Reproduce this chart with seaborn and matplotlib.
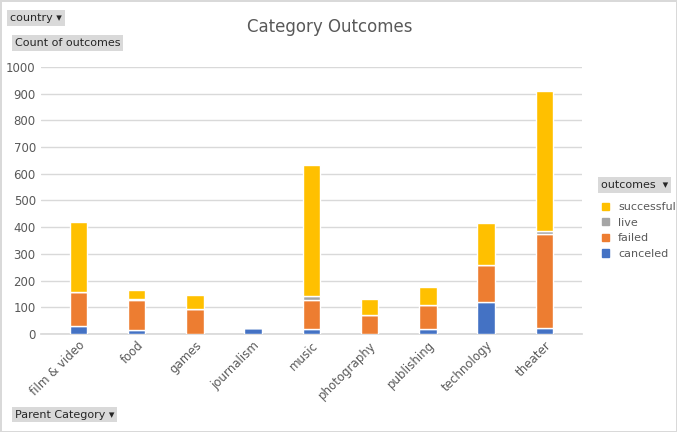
import matplotlib
matplotlib.use("Agg")
import matplotlib.pyplot as plt
import seaborn as sns
import pandas as pd
from matplotlib.patches import Patch

categories = ["film & video", "food", "games", "journalism", "music",
              "photography", "publishing", "technology", "theater"]
canceled = [30, 15, 0, 24, 19, 0, 19, 120, 23]
failed = [128, 112, 94, 0, 109, 71, 90, 139, 352]
live = [0, 4, 0, 0, 15, 0, 0, 0, 11]
successful = [263, 33, 52, 0, 491, 60, 67, 157, 525]

sns.set_theme(style="white")
plt.rcParams['font.family'] = ['DejaVu Sans']

colors = {"canceled": "#4472C4", "failed": "#ED7D31", "live": "#A5A5A5", "successful": "#FFC000"}
series = [("canceled", canceled), ("failed", failed), ("live", live), ("successful", successful)]

fig = plt.figure(figsize=(6.77, 4.32), dpi=100)
ax = fig.add_axes([0.06, 0.227, 0.80, 0.618])

bottom = [0] * len(categories)
for name, vals in series:
    df = pd.DataFrame({"cat": categories, "val": vals})
    ax.bar(df["cat"], df["val"], bottom=bottom, width=0.3, color=colors[name], zorder=3)
    bottom = [b + v for b, v in zip(bottom, vals)]

ax.set_ylim(0, 1000)
ax.set_xlim(-0.65, 8.65)
ax.set_yticks(range(0, 1001, 100))
ax.yaxis.grid(True, color="#D9D9D9", linewidth=1, zorder=0)
ax.tick_params(axis="y", labelsize=8.5, colors="#595959", length=0)
ax.tick_params(axis="x", labelsize=8.5, colors="#595959", length=0)
plt.setp(ax.get_xticklabels(), rotation=45, ha="right", rotation_mode="anchor")
for s in ["top", "right", "left"]:
    ax.spines[s].set_visible(False)
ax.spines["bottom"].set_color("#D9D9D9")

fig.text(0.487, 0.925, "Category Outcomes", ha="center", fontsize=12, color="#595959")

box = dict(boxstyle="square,pad=0.25", fc="#D9D9D9", ec="none")
fig.text(0.015, 0.958, "country \u25be", fontsize=8, bbox=box, va="center")
fig.text(0.022, 0.9, "Count of outcomes", fontsize=8, bbox=box, va="center")
fig.text(0.022, 0.04, "Parent Category \u25be", fontsize=8, bbox=box, va="center")
fig.text(0.888, 0.572, "outcomes  \u25be", fontsize=8, bbox=box, va="center")

handles = [Patch(color=colors[n]) for n in ["successful", "live", "failed", "canceled"]]
fig.legend(handles, ["successful", "live", "failed", "canceled"], loc="upper left",
           bbox_to_anchor=(0.875, 0.555), frameon=False, fontsize=8,
           handlelength=0.6, handleheight=0.6, labelcolor="#595959")

fig.patch.set_edgecolor("#D9D9D9")
fig.patch.set_linewidth(1)
fig.savefig("out.png", dpi=100)
